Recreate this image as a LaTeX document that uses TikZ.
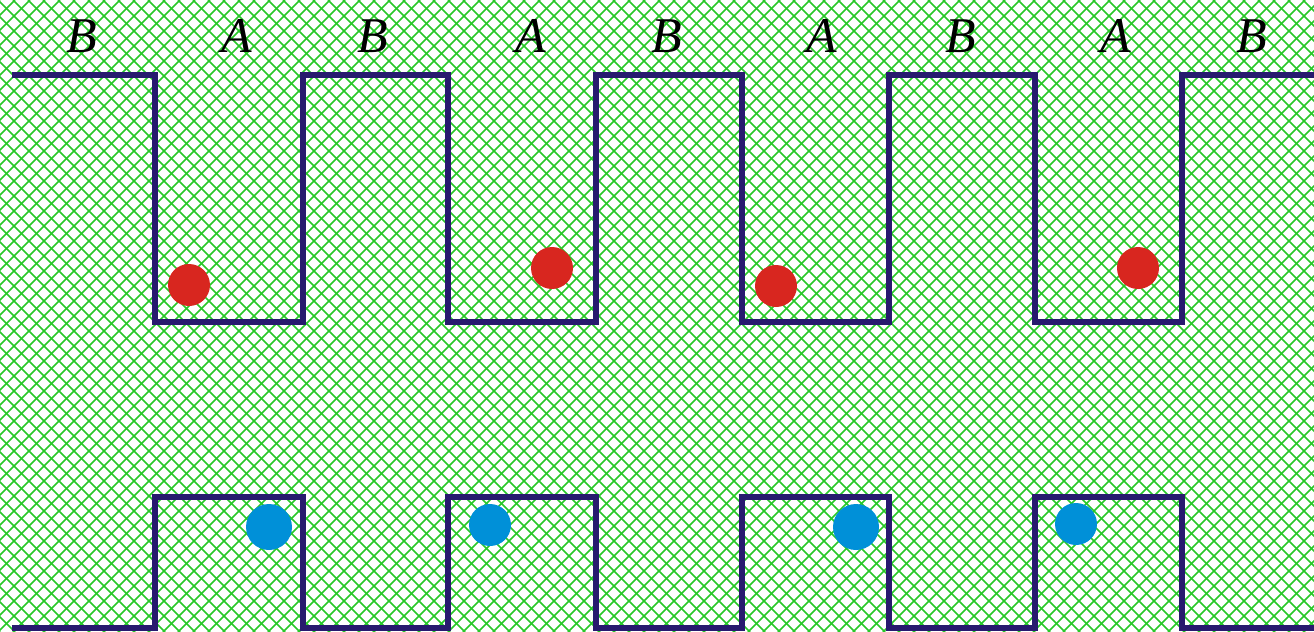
\documentclass[tikz,border=0pt]{standalone}
\usepackage{fontspec}
\setmainfont{Liberation Serif}
\usetikzlibrary{positioning}
\definecolor{hatch}{RGB}{40,200,40}
\definecolor{wave}{RGB}{40,26,110}
\definecolor{hot}{RGB}{216,38,31}
\definecolor{cold}{RGB}{0,144,216}

\begin{document}
\begin{tikzpicture}[x=0.5pt,y=-0.5pt]
\tikzset{dot/.style = {shape=circle,fill,inner sep=0pt,minimum size=21pt}}
\tikzset{lab/.style = {font=\fontsize{25}{25}\selectfont\itshape,inner sep=0pt}}
\tikzset{rim/.style = {wave,line width=3pt,line join=miter}}
\useasboundingbox (0,0) rectangle (1314,632);
% background hatching
\begin{scope}
\clip (0,0) rectangle (1314,632);
\foreach \c in {0,15,...,1950}{
  \draw[hatch,line width=0.8pt] (\c,0) -- (\c-632,632);
  \draw[hatch,line width=0.8pt] (\c-632,0) -- (\c,632);
}
\end{scope}
% labels
\node[lab] (b1) at (82,36) {B};
\node[lab] (a1) at (237,36) {A};
\node[lab] (b2) at (373,36) {B};
\node[lab] (a2) at (531,36) {A};
\node[lab] (b3) at (667,36) {B};
\node[lab] (a3) at (822,36) {A};
\node[lab] (b4) at (961,36) {B};
\node[lab] (a4) at (1116,36) {A};
\node[lab] (b5) at (1252,36) {B};
% upper wave
\draw[rim] (12,75) -- (155,75) -- (155,322) -- (303,322) -- (303,75)
  -- (448,75) -- (448,322) -- (596,322) -- (596,75) -- (742,75) -- (742,322)
  -- (889,322) -- (889,75) -- (1035,75) -- (1035,322) -- (1182,322) -- (1182,75)
  -- (1314,75);
% lower wave
\draw[rim] (12,628) -- (155,628) -- (155,497) -- (303,497) -- (303,628)
  -- (448,628) -- (448,497) -- (596,497) -- (596,628) -- (742,628) -- (742,497)
  -- (889,497) -- (889,628) -- (1035,628) -- (1035,497) -- (1182,497) -- (1182,628)
  -- (1314,628);
% particles
\node[dot,hot] (r1) at (189,285) {};
\node[dot,hot] (r2) at (552,268) {};
\node[dot,hot] (r3) at (776,286) {};
\node[dot,hot] (r4) at (1138,268) {};
\node[dot,cold,minimum size=23pt] (u1) at (269,527) {};
\node[dot,cold] (u2) at (490,525) {};
\node[dot,cold,minimum size=23pt] (u3) at (856,527) {};
\node[dot,cold] (u4) at (1076,524) {};
\end{tikzpicture}
\end{document}
